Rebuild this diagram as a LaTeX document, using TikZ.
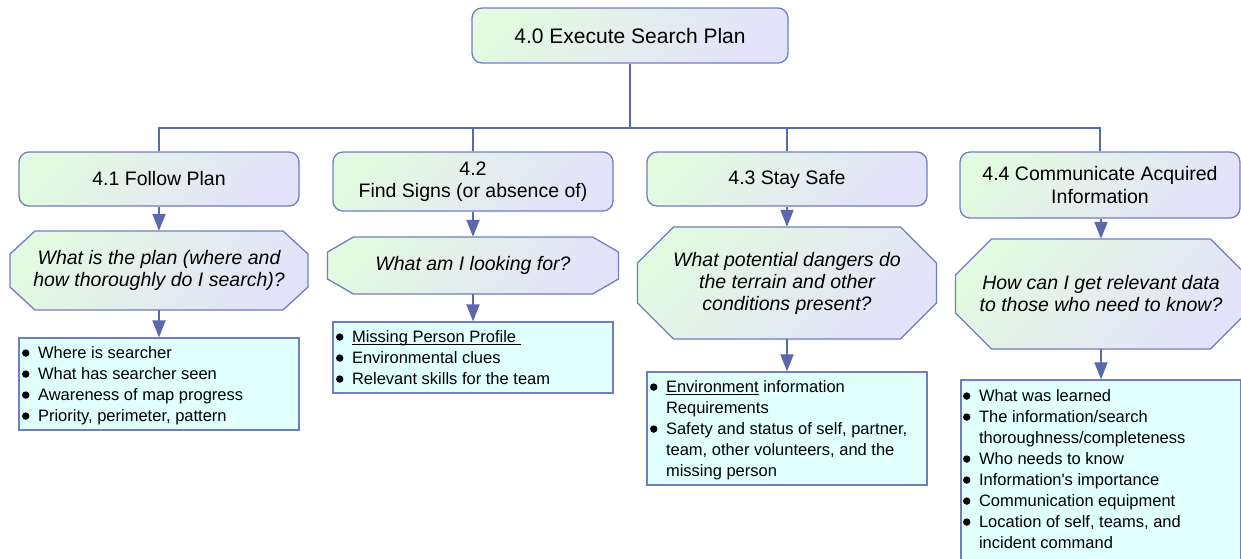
\documentclass[tikz,border=0pt]{standalone}
\usepackage{fontspec}
\setmainfont{Liberation Sans}
\usetikzlibrary{arrows.meta}
\definecolor{lineblue}{RGB}{90,104,172}
\definecolor{bord}{RGB}{112,126,192}
\definecolor{gA}{RGB}{226,250,224}
\definecolor{gB}{RGB}{228,226,250}
\definecolor{cyanfill}{RGB}{224,255,255}
\newsavebox\ulbox
\newcommand\myul[1]{\sbox\ulbox{#1}\rlap{\rule[-2.4pt]{\wd\ulbox}{1.1pt}}\usebox\ulbox}
\newcommand\bi{\makebox[16pt][l]{\tikz[x=1pt,y=1pt,baseline=0pt]{\fill[black] (4,5.3) circle (3.7pt);}}}
\newcommand\nb{\makebox[16pt][l]{}}
\newcommand\octnode[8]{%
  \path[octfill] (#2-#4+#6,#3-#5) -- (#2+#4-#6,#3-#5) -- (#2+#4,#3-#5+#7) -- (#2+#4,#3+#5-#7)
    -- (#2+#4-#6,#3+#5) -- (#2-#4+#6,#3+#5) -- (#2-#4,#3+#5-#7) -- (#2-#4,#3-#5+#7) -- cycle;
  \node[qtext, minimum width=2*#4, minimum height=2*#5] (#1) at (#2,#3) {#8};}
\tikzset{
  headbox/.style={draw=bord, line width=1.3pt, rounded corners=10pt, top color=gA, bottom color=gB,
    shading angle=45, minimum width=280, inner sep=0pt, align=center,
    font=\fontsize{19.5}{22.5}\selectfont},
  topbox/.style={headbox, minimum width=316, minimum height=55, font=\fontsize{21}{24}\selectfont},
  octfill/.style={draw=bord, line width=1.3pt, top color=gA, bottom color=gB, shading angle=45},
  qtext/.style={inner sep=0pt, align=center, font=\fontsize{19.5}{22}\selectfont\itshape},
  listbox/.style={draw=bord, line width=1.3pt, fill=cyanfill, minimum width=280, inner sep=0pt},
  listtext/.style={anchor=base west, inner sep=0pt, font=\fontsize{16.5}{21}\selectfont},
  conn/.style={draw=lineblue, line width=2pt},
  arr/.style={conn, -{Triangle[length=17pt,width=13pt]}}
}
\begin{document}
\begin{tikzpicture}[x=1pt,y=-1pt]
\useasboundingbox (0,0) rectangle (1241,558);
\clip (0,0) rectangle (1241,558);
\fill[white] (0,0) rectangle (1241,558);

% top
\node[topbox] (top) at (630,35.5) {\raisebox{-1pt}{4.0 Execute Search Plan}};

% headers
\node[headbox, minimum height=54] (h1) at (159,179) {\raisebox{-1pt}{4.1 Follow Plan}};
\node[headbox, minimum height=59] (h2) at (473,181.5) {4.2\\Find Signs (or absence of)};
\node[headbox, minimum height=54] (h3) at (787,179) {\raisebox{-1.5pt}{4.3 Stay Safe}};
\node[headbox, minimum height=66] (h4) at (1100,185) {4.4 Communicate Acquired\\Information};

% bus
\coordinate (bus) at (630,128);
\draw[conn] (top.south) -- (top.south |- bus);
\draw[conn] (h1.north) |- (h4.north |- bus) -- (h4.north);
\draw[conn] (h2.north) -- (h2.north |- bus);
\draw[conn] (h3.north) -- (h3.north |- bus);

% question octagons
\octnode{q1}{159}{270.5}{149}{39.5}{25}{23}{What is the plan (where and\\how thoroughly do I search)?}
\octnode{q2}{473}{265.5}{145.5}{28.5}{26}{15}{What am I looking for?}
\octnode{q3}{787}{283}{149.5}{56}{36}{36}{What potential dangers do\\the terrain and other\\conditions present?}
\octnode{q4}{1101}{294}{145.5}{55}{36}{36}{How can I get relevant data\\to those who need to know?}

% list boxes
\node[listbox, minimum height=92] (b1) at (159,384) {};
\node[listbox, minimum height=71] (b2) at (473,357.5) {};
\node[listbox, minimum height=113] (b3) at (787,428.5) {};
\node[listbox, minimum height=200] (b4) at (1101,480) {};

\node[listtext] at ([shift={(3.5,21)}]b1.north west) {\begin{tabular}[t]{@{}l@{}}
\bi Where is searcher\\
\bi What has searcher seen\\
\bi Awareness of map progress\\
\bi Priority, perimeter, pattern
\end{tabular}};
\node[listtext] at ([shift={(3.5,21)}]b2.north west) {\begin{tabular}[t]{@{}l@{}}
\bi \myul{Missing Person Profile\ }\\
\bi Environmental clues\\
\bi Relevant skills for the team
\end{tabular}};
\node[listtext] at ([shift={(3.5,21)}]b3.north west) {\begin{tabular}[t]{@{}l@{}}
\bi \myul{Environment} information\\
\nb Requirements\\
\bi Safety and status of self, partner,\\
\nb team, other volunteers, and the\\
\nb missing person
\end{tabular}};
\node[listtext] at ([shift={(2.5,22)}]b4.north west) {\begin{tabular}[t]{@{}l@{}}
\bi What was learned\\
\bi The information/search\\
\nb thoroughness/completeness\\
\bi Who needs to know\\
\bi Information\textquotesingle s importance\\
\bi Communication equipment\\
\bi Location of self, teams, and\\
\nb incident command
\end{tabular}};

% arrows
\draw[arr] (h1.south) -- (q1.north);
\draw[arr] (h2.south) -- (q2.north);
\draw[arr] (h3.south) -- (q3.north);
\draw[arr] (h4.south -| q4.north) -- (q4.north);
\draw[arr] (q1.south) -- (b1.north);
\draw[arr] (q2.south) -- (b2.north);
\draw[arr] (q3.south) -- (b3.north);
\draw[arr] (q4.south) -- (b4.north);
\end{tikzpicture}
\end{document}
